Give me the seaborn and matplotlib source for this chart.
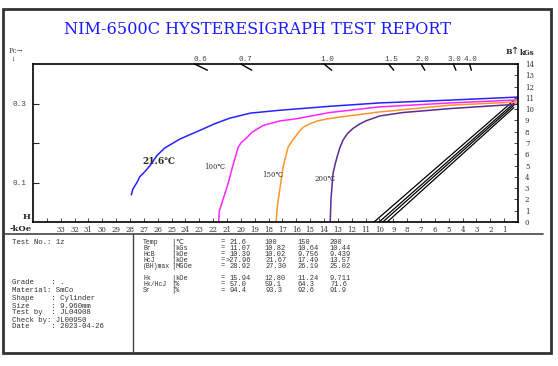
"""
NIM-6500C hysteresigraph test report: demagnetization curves of a SmCo sample.
"""

import numpy as np
import pandas as pd
import matplotlib
matplotlib.use("Agg")
import matplotlib.pyplot as plt
from matplotlib.lines import Line2D
from matplotlib.patches import Rectangle
import seaborn as sns

# ---- data (H in kOe, B in kGs) -------------------------------------------
temps = ["21.6", "100", "150", "200"]
curve_colors = ["#2424ff", "#ff24ff", "#ff9428", "#5a2a96"]

h_21 = [27.9, 27.8, 27.5, 27.3, 26.9, 26.55, 26.05, 25.5, 24.4, 22.9, 21.9,
        20.8, 19.3, 17.2, 13.6, 10.0, 4.9, 0.0]
b_21 = [2.4, 2.9, 3.5, 4.0, 4.5, 5.0, 5.9, 6.55, 7.35, 8.15, 8.7,
        9.2, 9.65, 9.9, 10.25, 10.55, 10.8, 11.07]

h_100 = [21.6, 21.55, 21.3, 20.9, 20.6, 20.2, 20.0, 19.55, 19.2, 18.4, 17.2, 16.0, 13.6, 10.0, 4.9, 0.0]
b_100 = [0.0, 1.0, 1.95, 3.5, 4.9, 6.6, 7.0, 7.5, 7.95, 8.55, 8.95, 9.15, 9.7, 10.2, 10.55, 10.82]

h_150 = [17.45, 17.4, 17.3, 16.95, 16.6, 16.35, 16.1, 15.8, 15.5, 15.0, 14.5, 13.7, 12.85, 10.0, 4.9, 0.0]
b_150 = [0.0, 1.05, 1.95, 4.9, 6.6, 7.1, 7.5, 8.0, 8.4, 8.7, 8.95, 9.15, 9.3, 9.75, 10.35, 10.64]

h_200 = [13.55, 13.5, 13.35, 13.2, 13.06, 12.85, 12.63, 12.3, 11.9, 11.4, 10.9, 9.96, 8.3, 4.9, 0.0]
b_200 = [0.0, 1.95, 4.3, 5.1, 5.75, 6.6, 7.25, 7.85, 8.3, 8.7, 9.0, 9.4, 9.7, 10.05, 10.44]

# normal B curves (straight lines from HcB up to near Br)
bline_h_start = [10.39, 10.02, 9.756, 9.439]
bline_h_end = [0.3, 0.3, 0.3, 0.3]
bline_b_end = [10.77, 10.52, 10.34, 10.14]

# permeance coefficient scale
pc_top = [0.6, 0.7, 1.0, 1.5, 2.0, 3.0, 4.0]
pc_left = [0.1, 0.2, 0.3]
pc_left_labels = ["0.1", "", "0.3"]

h_ticks = list(range(1, 35))
h_labels = [str(v) if v <= 33 else "" for v in h_ticks]
b_ticks = list(range(0, 15))

# report table
info_rows = ["Test No.: 1z", "Grade    : .", "Material: SmCo", "Shape    : Cylinder",
             "Size     : 9.960mm", "Test by  : JL04908", "Check by: JL00950",
             "Date     : 2023-04-26"]
param_names = ["Temp", "Br", "HcB", "HcJ", "(BH)max", "Hk", "Hk/HcJ", "Sr"]
param_units = ["\u2103", "kGs", "kOe", "kOe", "MGOe", "kOe", "%", "%"]
param_vals = [
    ["21.6", "100", "150", "200"],
    ["11.07", "10.82", "10.64", "10.44"],
    ["10.39", "10.02", "9.756", "9.439"],
    [">27.96", "21.67", "17.49", "13.57"],
    ["28.92", "27.30", "26.19", "25.02"],
    ["15.94", "12.80", "11.24", "9.711"],
    ["57.0", "59.1", "64.3", "71.6"],
    ["94.4", "93.3", "92.6", "91.9"],
]

# ---- frames ------------------------------------------------------------
curves = pd.concat([
    pd.DataFrame({"H": h, "B": b, "temp": t})
    for h, b, t in zip([h_21, h_100, h_150, h_200], [b_21, b_100, b_150, b_200], temps)
])
blines = pd.concat([
    pd.DataFrame({"H": [h0, h1], "B": [0.0, b1], "temp": t})
    for h0, h1, b1, t in zip(bline_h_start, bline_h_end, bline_b_end, temps)
])

sns.set_style("white")
plt.rcParams["font.family"] = ["DejaVu Serif", "DejaVu Sans"]

W, H = 558, 366
fig = plt.figure(figsize=(W / 100, H / 100), dpi=100)


def fx(x):
    return x / W


def fy(y):
    return 1 - y / H


ax_l, ax_r, ax_t, ax_b = 33, 518, 64, 222
ax = fig.add_axes([fx(ax_l), fy(ax_b), (ax_r - ax_l) / W, (ax_b - ax_t) / H])

sns.lineplot(data=blines, x="H", y="B", units="temp", estimator=None,
             color="black", lw=0.9, ax=ax, legend=False)
sns.lineplot(data=curves, x="H", y="B", hue="temp", hue_order=temps,
             palette=curve_colors, sort=False, estimator=None,
             lw=1.1, ax=ax, legend=False)

ax.set_xlim(35, 0)
ax.set_ylim(0, 14)
ax.set_xlabel("")
ax.set_ylabel("")
for s in ax.spines.values():
    s.set_linewidth(1.2)
    s.set_color("black")

ax.set_xticks(h_ticks)
ax.set_xticklabels(h_labels)
ax.tick_params(axis="x", direction="in", length=3, width=0.6, labelsize=5,
               labelcolor="#333333", pad=3, bottom=True)
ax.yaxis.tick_right()
ax.set_yticks(b_ticks)
ax.tick_params(axis="y", direction="in", length=3, width=0.6, labelsize=5,
               labelcolor="#333333", pad=5, right=True, left=False)

# permeance coefficient axis on the left (B = Pc * 35 at the left edge)
h_max = 35
sec = ax.secondary_yaxis("left", functions=(lambda b: b / h_max, lambda p: p * h_max))
sec.set_yticks(pc_left)
sec.set_yticklabels(pc_left_labels)
sec.tick_params(direction="in", length=4, width=0.8, labelsize=5.5, pad=5,
                labelcolor="#444444")
for lbl in sec.get_yticklabels():
    lbl.set_family("Liberation Mono")
sec.spines["left"].set_visible(False)

# Pc load-line marks along the top axis
for pc in pc_top:
    ax.plot([14.0 / pc, 13.45 / pc], [14.0, 13.45], color="black", lw=1.0, clip_on=False)
    ax.text(13.75 / pc, 14.1, f"{pc:.1f}", ha="center", va="bottom", fontsize=5.5,
            family="Liberation Mono", color="#444444")

# temperature labels
ax.text(25.9, 5.4, "21.6\u2103", fontsize=6.5, fontweight="bold", ha="center", va="center")
ax.text(21.9, 4.9, "100\u2103", fontsize=5, color="#333333", ha="center", va="center")
ax.text(17.7, 4.2, "150\u2103", fontsize=5, color="#333333", ha="center", va="center")
ax.text(13.9, 3.8, "200\u2103", fontsize=5, color="#333333", ha="center", va="center")

# ---- figure decorations ------------------------------------------------
fig.patches.append(Rectangle((fx(3), fy(353)), fx(551) - fx(3), fy(9) - fy(353),
                             transform=fig.transFigure, fill=False, lw=2, edgecolor="#333333"))
fig.lines.append(Line2D([fx(4), fx(543)], [fy(234), fy(234)], transform=fig.transFigure,
                        lw=1.2, color="#444444"))
fig.lines.append(Line2D([fx(133), fx(133)], [fy(234), fy(353)], transform=fig.transFigure,
                        lw=1.0, color="#444444"))

fig.text(fx(258), fy(29), "NIM-6500C HYSTERESIGRAPH TEST REPORT", ha="center", va="center",
         fontsize=11.6, color="#1a1aff")
fig.text(fx(9), fy(51), "Pc\u2192", ha="left", va="center", fontsize=5, color="#444444")
fig.text(fx(13), fy(59), "\u2193", ha="center", va="center", fontsize=4.5, color="#444444")
fig.text(fx(509), fy(52), "B", ha="center", va="center", fontsize=5.5, fontweight="bold")
fig.text(fx(515), fy(51), "\u2191", ha="center", va="center", fontsize=7, family="DejaVu Sans")
fig.text(fx(520), fy(53), "kGs", ha="left", va="center", fontsize=5, fontweight="bold")
fig.text(fx(27), fy(217), "H", ha="center", va="center", fontsize=6, fontweight="bold")
fig.text(fx(10), fy(229), "-kOe", ha="left", va="center", fontsize=6, fontweight="bold")

mono = dict(family="Liberation Mono", fontsize=5, color="#333333", va="center", ha="left")
info = {**mono, "fontsize": 5.3}
info_y = [242, 283, 291, 298, 306, 313, 320, 327]
for txt, y in zip(info_rows, info_y):
    fig.text(fx(12), fy(y), txt, **info)

row_y = [242, 248, 254, 260, 266, 278, 284, 291]
val_x = [230, 265, 298, 330]
name_style = {**mono, "fontsize": 4.7}
for name, unit, vals, y in zip(param_names, param_units, param_vals, row_y):
    fig.text(fx(143), fy(y), name, **name_style)
    fig.text(fx(171), fy(y), "|", **mono)
    fig.text(fx(175), fy(y), unit, **{**mono, "family": ["Liberation Mono", "DejaVu Sans"]})
    fig.text(fx(221), fy(y), "=", **mono)
    for v, x in zip(vals, val_x):
        fig.text(fx(x - 4 if v.startswith(">") else x), fy(y), v, **mono)

fig.savefig("out.png", dpi=100)
